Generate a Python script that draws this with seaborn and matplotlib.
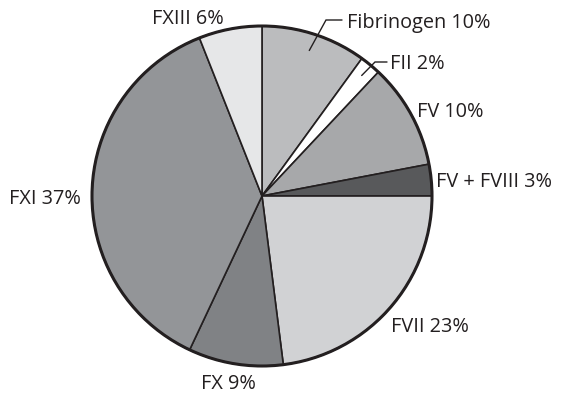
import numpy as np
import matplotlib
matplotlib.use("Agg")
import matplotlib.pyplot as plt
import seaborn as sns

# Share of each coagulation factor deficiency (%)
factors = ["Fibrinogen", "FII", "FV", "FV + FVIII", "FVII", "FX", "FXI", "FXIII"]
shares = [10, 2, 10, 3, 23, 9, 37, 6]
fills = ["#bbbcbe", "#ffffff", "#a7a8aa", "#58595b", "#d1d2d4", "#808285", "#939598", "#e6e7e8"]
labels = [f"{f} {s}%" for f, s in zip(factors, shares)]

sns.set_theme(style="white")
plt.rcParams["font.family"] = ["Open Sans", "DejaVu Sans"]

ink = "#231f20"
W, H = 561, 395
fig = plt.figure(figsize=(W / 100, H / 100), dpi=100)
ax = fig.add_axes([0, 0, 1, 1])

cx, cy, R = 262, -196, 170
palette = sns.color_palette(fills)
wedges, _ = ax.pie(shares, colors=palette, startangle=90, counterclock=False,
                   center=(cx, cy), radius=R, frame=True,
                   wedgeprops=dict(edgecolor=ink, linewidth=1.2))
ax.set_xlim(0, W)
ax.set_ylim(-H, 0)
ax.set_aspect("equal")
ax.axis("off")
# heavier outline around the disc
ax.add_patch(plt.Circle((cx, cy), R, fill=False, edgecolor=ink, linewidth=2.2))

# label anchors: (left x, baseline y) in pixels
anchors = {
    "Fibrinogen": (347, 28),
    "FII": (390, 69),
    "FV": (417, 117),
    "FV + FVIII": (436, 187),
    "FVII": (391, 332),
    "FX": (201, 389),
    "FXI": (9, 204),
    "FXIII": (152, 24),
}
for f, lab in zip(factors, labels):
    x, y = anchors[f]
    ax.text(x, -y, lab, ha="left", va="baseline", fontsize=14.3, color=ink)

# leader lines for the two narrow top slices
elbows = {"Fibrinogen": ((326, 20), 342, 0.9), "FII": ((375, 62), 387, 0.92)}
for w, f in zip(wedges, factors):
    if f in elbows:
        (ex, ey), end_x, rf = elbows[f]
        mid = np.deg2rad((w.theta1 + w.theta2) / 2)
        sx, sy = cx + rf * R * np.cos(mid), cy + rf * R * np.sin(mid)
        ax.plot([sx, ex, end_x], [sy, -ey, -ey], color=ink, linewidth=1.0,
                solid_joinstyle="miter")

fig.savefig("out.png", dpi=100, facecolor="white")
